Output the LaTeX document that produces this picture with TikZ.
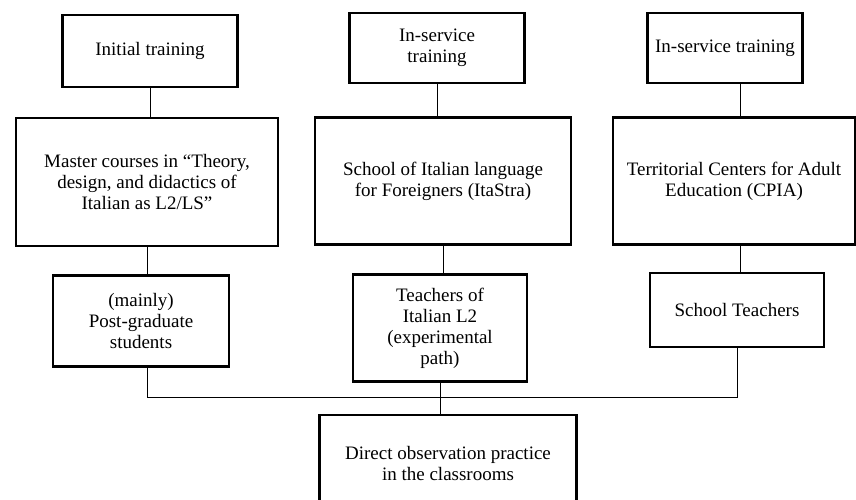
\documentclass[tikz,border=0pt]{standalone}
\usepackage{fontspec}
\setmainfont{Liberation Serif}
\tikzset{
  box/.style={draw, line width=2.6pt, align=center, inner sep=2pt, font=\fontsize{19}{21}\selectfont},
  link/.style={line width=0.8pt},
}
\begin{document}
\begin{tikzpicture}[x=1pt, y=-1pt]
        \clip (0,0) rectangle (856,499);
        
        %the top row
        \node [box, minimum width=175, minimum height=72] (initial) at (150,51) {Initial training};
        \node [box, minimum width=175, minimum height=70] (inserv) at (437,48) {In-service\\training};
        \node [box, minimum width=155, minimum height=70] (inservb) at (725,48) {In-service training};
        
        %the institutions
        \node [box, minimum width=262, minimum height=128] (master) at (147,182) {Master courses in “Theory,\\design, and didactics of\\Italian as L2/LS”};
        \node [box, minimum width=256, minimum height=127] (school) at (443,181) {School of Italian language\\for Foreigners (ItaStra)};
        \node [box, minimum width=242, minimum height=127] (territorial) at (734,181) {Territorial Centers for Adult\\Education (CPIA)};
        
        %the participants
        \node [box, minimum width=176, minimum height=91] (mainly) at (141,321) {(mainly)\\Post-graduate\\students};
        \node [box, minimum width=174, minimum height=107] (teachers) at (440,328) {Teachers of\\Italian L2\\(experimental\\path)};
        \node [box, minimum width=174, minimum height=74] (schoolt) at (737,310) {School Teachers};
        
        \node [box, minimum width=257, minimum height=96] (direct) at (448,463) {Direct observation practice\\in the classrooms};
        
        \coordinate (bus) at (0,397);
        \coordinate (rightlink) at (740,0);
        
        \draw [link] (initial.south) -- (initial.south |- master.north);
        \draw [link] (inserv.south) -- (inserv.south |- school.north);
        \draw [link] (rightlink |- inservb.south) -- (rightlink |- territorial.north);
        
        \draw [link] (master.south) -- (master.south |- mainly.north);
        \draw [link] (school.south) -- (school.south |- teachers.north);
        \draw [link] (rightlink |- territorial.south) -- (rightlink |- schoolt.north);
        
        \draw [link] (master.south |- mainly.south) -- (master.south |- bus) -- (schoolt.south |- bus) -- (schoolt.south);
        \draw [link] (teachers.south) -- (teachers.south |- direct.north);
        
    \end{tikzpicture}
\end{document}
